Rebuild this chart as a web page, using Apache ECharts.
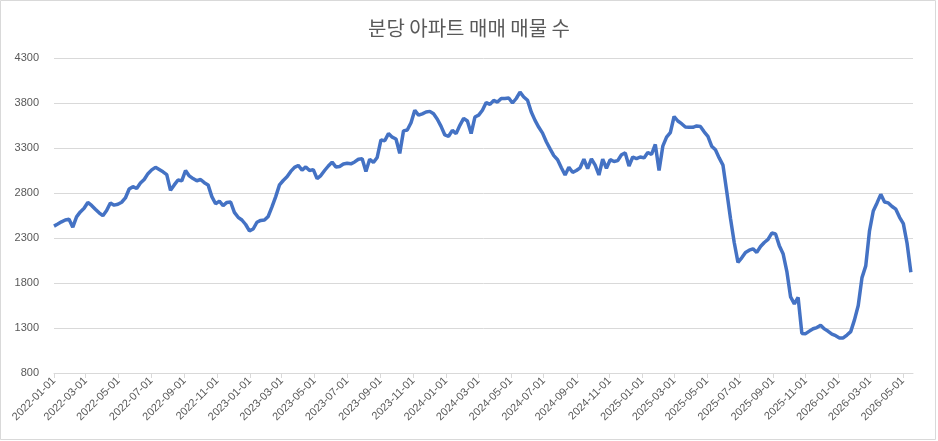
<!DOCTYPE html>
<html><head><meta charset="utf-8">
<script src="https://cdn.jsdelivr.net/npm/echarts@6/dist/echarts.min.js"></script>
<style>html,body{margin:0;padding:0;background:#fff}#c{width:938px;height:441px}</style>
</head><body><div id="c"></div>
<script>
const titleText = '분당 아파트 매매 매물 수';
const startDate = '2022-01-01';
const stepDays = 7;
const endDay = 1600;
const values = [
2432,2455,2480,2500,2508,2420,2535,2590,2630,2695,
2662,2620,2580,2548,2605,2690,2665,2675,2697,2745,
2844,2870,2850,2910,2950,3015,3057,3085,3060,3035,
3005,2830,2890,2945,2935,3050,2990,2960,2936,2950,
2915,2890,2760,2680,2710,2660,2695,2700,2585,2530,
2500,2450,2380,2400,2475,2495,2500,2540,2645,2760,
2890,2939,2980,3040,3085,3106,3055,3090,3050,3060,
2960,2994,3050,3100,3143,3090,3095,3122,3130,3124,
3145,3175,3180,3040,3175,3140,3195,3390,3380,3460,
3420,3400,3240,3490,3500,3580,3720,3665,3680,3700,
3707,3680,3620,3540,3445,3430,3496,3460,3552,3630,
3600,3460,3644,3665,3720,3805,3785,3828,3810,3850,
3850,3855,3800,3850,3920,3867,3830,3700,3607,3530,
3465,3370,3290,3215,3170,3080,3000,3085,3030,3050,
3080,3175,3070,3180,3110,3000,3175,3075,3170,3150,
3160,3225,3245,3100,3200,3181,3200,3190,3250,3230,
3340,3050,3320,3420,3470,3650,3600,3570,3533,3530,
3530,3545,3540,3480,3430,3320,3280,3190,3110,2820,
2520,2250,2030,2080,2140,2165,2180,2140,2205,2250,
2285,2355,2345,2215,2126,1930,1645,1568,1640,1240,
1237,1265,1292,1305,1330,1290,1263,1232,1215,1190,
1189,1222,1260,1390,1550,1860,1990,2380,2600,2690,
2785,2700,2690,2650,2620,2530,2460,2240,1920
];
const xTickLabels = [
'2022-01-01','2022-03-01','2022-05-01','2022-07-01','2022-09-01','2022-11-01',
'2023-01-01','2023-03-01','2023-05-01','2023-07-01','2023-09-01','2023-11-01',
'2024-01-01','2024-03-01','2024-05-01','2024-07-01','2024-09-01','2024-11-01',
'2025-01-01','2025-03-01','2025-05-01','2025-07-01','2025-09-01','2025-11-01',
'2026-01-01','2026-03-01','2026-05-01'
];
const yTicks = [800,1300,1800,2300,2800,3300,3800,4300];

function parts(s){ return s.split('-').map(Number); }
function dayTs(s, offset){ const p = parts(s); return new Date(p[0], p[1]-1, p[2] + (offset||0)).getTime(); }
function fmt(v){ const d = new Date(v); const p = n => (n<10?'0':'')+n; return d.getFullYear()+'-'+p(d.getMonth()+1)+'-'+p(d.getDate()); }

const seriesData = values.map((v,i)=>[dayTs(startDate, i*stepDays), v]);
const xTickTs = xTickLabels.map(s=>dayTs(s,0));
const FONT = '"Liberation Sans", Arial, sans-serif';
const TXT = '#595959';

const chart = echarts.init(document.getElementById('c'), null, {renderer:'canvas'});
chart.setOption({
  animation:false,
  backgroundColor:'#fff',
  title:{ text:titleText, left:'center', top:13, textStyle:{ fontFamily:'"Noto Sans CJK KR", sans-serif', fontSize:20, fontWeight:'normal', color:TXT } },
  grid:{ left:54, right:25, top:58, bottom:68 },
  graphic:[{ type:'rect', shape:{x:0.5,y:0.5,width:935,height:439}, style:{fill:'none', stroke:'#d9d9d9', lineWidth:1}, silent:true }],
  xAxis:{
    type:'value',
    min: dayTs(startDate,0),
    max: dayTs(startDate,endDay),
    axisLine:{ show:true, lineStyle:{ color:'#d9d9d9', width:1 } },
    axisTick:{ show:true, customValues:xTickTs, length:5, lineStyle:{ color:'#d9d9d9' } },
    axisLabel:{ customValues:xTickTs, formatter:fmt, rotate:45, margin:6, fontSize:11, color:TXT, fontFamily:FONT },
    splitLine:{ show:false }
  },
  yAxis:{
    type:'value', min:800, max:4300,
    axisLine:{ show:false },
    axisTick:{ show:false, customValues:yTicks },
    axisLabel:{ customValues:yTicks, formatter:v=>String(v), margin:15, fontSize:11, color:TXT, fontFamily:FONT },
    splitLine:{ show:true, lineStyle:{ color:'#d9d9d9', width:1 } }
  },
  series:[{ type:'line', data:seriesData, showSymbol:false, symbol:'none', lineStyle:{ color:'#4472C4', width:3.5 }, itemStyle:{color:'#4472C4'} }]
});
</script></body></html>
